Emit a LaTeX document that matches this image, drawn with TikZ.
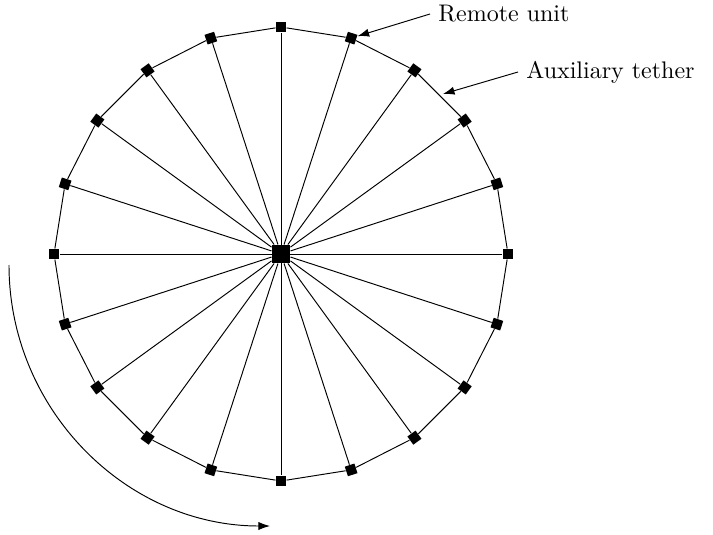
\documentclass[tikz,border=0pt]{standalone}
\usetikzlibrary{arrows.meta}
\tikzset{
  unitbox/.style={draw=none,fill=black,inner sep=0pt,minimum size=4.2pt,shape=rectangle},
  hubbox/.style={draw=none,fill=black,inner sep=0pt,minimum size=7.5pt,shape=rectangle},
  link/.style={line width=0.4pt},
  pointer/.style={-{Latex[length=4.8pt,width=3.4pt]}},
  lbl/.style={anchor=west,font=\normalsize}
}
\begin{document}
\begin{tikzpicture}[x=0.4167pt,y=0.4167pt]
\useasboundingbox (0,0) rectangle (713,534);
\node[hubbox] (hub) at (281,280) {};
\foreach \i in {0,...,19}{
  \pgfmathsetmacro{\a}{\i*18}
  \node[unitbox,rotate=\a] (n\i) at ([shift={(\a:227)}]hub.center) {};
}
\foreach \i in {0,...,19}{
  \draw[link] (hub) -- (n\i);
}
\foreach \i [evaluate=\i as \j using {int(mod(\i+1,20))}] in {0,...,19}{
  \draw[link] (n\i) -- (n\j);
}
\node[lbl] (ru) at (430,520) {Remote unit};
\draw[pointer] (ru.west) -- (n4);
\node[lbl] (at) at (518,462) {Auxiliary tether};
\coordinate (tetherpt) at (443,440);
\draw[pointer] (at.west) -- (tetherpt);
\coordinate (arcstart) at (9,269);
\draw[pointer] (arcstart) arc[start angle=180,end angle=270,radius=261];
\end{tikzpicture}
\end{document}
